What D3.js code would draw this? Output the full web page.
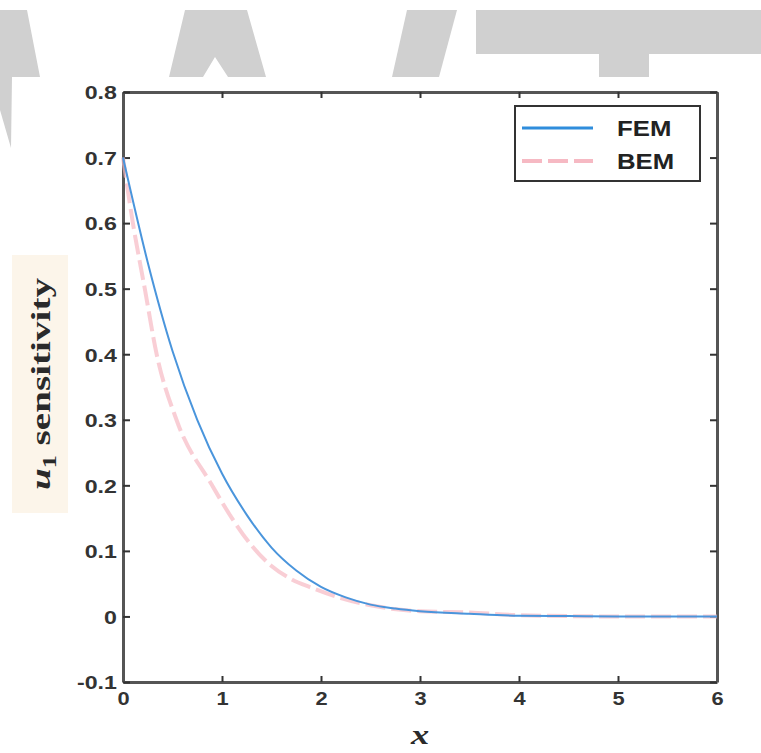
<!DOCTYPE html>
<html>
<head>
<meta charset="utf-8">
<script src="https://cdn.jsdelivr.net/npm/d3@7"></script>
<style>
body { margin: 0; background: #fff; }
svg { display: block; }
</style>
</head>
<body>
<div id="chart"></div>
<script>
// FEM curve (solid blue)
var femX = [0, 0.25, 0.5, 0.75, 1.0, 1.25, 1.5, 1.75, 2.0, 2.25, 2.5, 2.75, 3.0, 3.5, 4.0, 4.5, 5.0, 5.5, 6.0];
var femY = [0.70, 0.54, 0.405, 0.30, 0.218, 0.155, 0.105, 0.07, 0.045, 0.029, 0.018, 0.012, 0.008, 0.004, 0.001, 0.0005, 0, 0, 0];

// BEM curve (pink dashed)
var bemX = [0, 0.1, 0.22, 0.34, 0.54, 0.9, 1.1, 1.3, 1.5, 1.7, 1.9, 2.2, 2.5, 3.0, 3.5, 4.0, 5.0, 6.0];
var bemY = [0.70, 0.60, 0.50, 0.40, 0.30, 0.20, 0.15, 0.108, 0.077, 0.057, 0.044, 0.028, 0.017, 0.008, 0.006, 0.002, 0.0, 0.0];

var xTicks = [0, 1, 2, 3, 4, 5, 6];
var yTicks = [-0.1, 0, 0.1, 0.2, 0.3, 0.4, 0.5, 0.6, 0.7, 0.8];
var seriesNames = ['FEM', 'BEM'];

// grey shapes across the top of the picture
var shapes = [
    [[0, 10], [27, 10], [40, 77], [12, 77], [11, 148], [0, 110]],
    [[185, 10], [247, 10], [266, 77], [228, 77], [215, 57], [203, 77], [169, 77]],
    [[407, 10], [457, 10], [439, 77], [392, 77]],
    [[476, 10], [761, 10], [761, 54], [649, 54], [649, 77], [599, 77], [599, 54], [476, 54]]
];

var width = 761,
    height = 753;

var svg = d3.select('#chart')
    .append('svg')
    .attr('width', width)
    .attr('height', height);

svg.selectAll('polygon.shape')
    .data(shapes)
    .enter()
    .append('polygon')
    .attr('class', 'shape')
    .attr('points', function(d) { return d.map(function(p) { return p.join(','); }).join(' '); })
    .attr('fill', '#d0d0d0');

var x = d3.scaleLinear().domain([0, 6]).range([123, 717]);
var y = d3.scaleLinear().domain([-0.1, 0.8]).range([682, 92]);

// y label background
svg.append('rect')
    .attr('x', 12)
    .attr('y', 255)
    .attr('width', 56)
    .attr('height', 258)
    .attr('fill', '#fcf5ea');

var axisColor = '#555';
var fmt = function(d) { return d === 0 ? '0' : String(+d.toFixed(1)); };

var gx = svg.append('g')
    .attr('transform', 'translate(0,' + y(-0.1) + ')')
    .call(d3.axisBottom(x).tickValues(xTicks).tickFormat(fmt).tickSizeInner(-6).tickSizeOuter(0).tickPadding(10));

var gxTop = svg.append('g')
    .attr('transform', 'translate(0,' + y(0.8) + ')')
    .call(d3.axisTop(x).tickValues(xTicks).tickFormat('').tickSizeInner(-6).tickSizeOuter(0));

var gy = svg.append('g')
    .attr('transform', 'translate(' + x(0) + ',0)')
    .call(d3.axisLeft(y).tickValues(yTicks).tickFormat(fmt).tickSizeInner(-7).tickSizeOuter(0).tickPadding(5));

var gyRight = svg.append('g')
    .attr('transform', 'translate(' + x(6) + ',0)')
    .call(d3.axisRight(y).tickValues(yTicks).tickFormat('').tickSizeInner(-7).tickSizeOuter(0));

[gx, gxTop, gy, gyRight].forEach(function(g) {
    g.select('.domain').attr('stroke', axisColor).attr('stroke-width', 3);
    g.selectAll('.tick line').attr('stroke', '#333').attr('stroke-width', 2);
    g.selectAll('.tick text')
        .attr('fill', '#333')
        .style('font-family', 'Liberation Sans, Arial, sans-serif')
        .style('font-weight', 'bold')
        .style('font-size', '19px');
});
gy.selectAll('.tick text').attr('transform', 'scale(1.22,1)').attr('dy', '0.36em');
gx.selectAll('.tick text').attr('transform', 'scale(1.15,1)');

var lineGen = d3.line()
    .x(function(d) { return x(d[0]); })
    .y(function(d) { return y(d[1]); })
    .curve(d3.curveMonotoneX);

var bem = bemX.map(function(v, i) { return [v, bemY[i]]; });
var fem = femX.map(function(v, i) { return [v, femY[i]]; });

svg.append('path')
    .datum(bem)
    .attr('d', lineGen)
    .attr('fill', 'none')
    .attr('stroke', '#f6b9c3')
    .attr('stroke-width', 4)
    .attr('stroke-dasharray', '20,6')
    .attr('opacity', 0.7);

svg.append('path')
    .datum(fem)
    .attr('d', lineGen)
    .attr('fill', 'none')
    .attr('stroke', '#4a95dc')
    .attr('stroke-width', 2);

// Legend
var legend = svg.append('g');
legend.append('rect')
    .attr('x', 515)
    .attr('y', 106)
    .attr('width', 185)
    .attr('height', 75)
    .attr('fill', '#fff')
    .attr('stroke', '#333')
    .attr('stroke-width', 2);

var legendColors = ['#2f8ddc', '#f6b9c3'];
var legendDash = [null, '20,6'];
var item = legend.selectAll('.item')
    .data(seriesNames)
    .enter()
    .append('g')
    .attr('transform', function(d, i) { return 'translate(0,' + (128 + i * 33) + ')'; });

item.append('line')
    .attr('x1', 522)
    .attr('x2', 593)
    .attr('stroke', function(d, i) { return legendColors[i]; })
    .attr('stroke-width', function(d, i) { return i === 0 ? 3 : 4; })
    .attr('stroke-dasharray', function(d, i) { return legendDash[i]; });

item.append('text')
    .attr('transform', 'translate(617,8) scale(1.12,1)')
    .attr('fill', '#222')
    .style('font-family', 'Liberation Sans, Arial, sans-serif')
    .style('font-weight', 'bold')
    .style('font-size', '23px')
    .text(function(d) { return d; });

// axis titles
var yl = svg.append('text')
    .attr('transform', 'translate(50,384) rotate(-90) scale(1.45,1)')
    .attr('text-anchor', 'middle')
    .attr('fill', '#2a2a2a')
    .style('font-family', 'Liberation Serif, Times New Roman, serif')
    .style('font-weight', 'bold')
    .style('font-size', '27px');
yl.append('tspan').style('font-style', 'italic').text('u');
yl.append('tspan').attr('dy', 6).style('font-size', '18px').text('1');
yl.append('tspan').attr('dy', -6).text(' sensitivity');

svg.append('text')
    .attr('transform', 'translate(420,744) scale(1.3,1)')
    .attr('text-anchor', 'middle')
    .attr('fill', '#2a2a2a')
    .style('font-family', 'Liberation Serif, Times New Roman, serif')
    .style('font-weight', 'bold')
    .style('font-style', 'italic')
    .style('font-size', '28px')
    .text('x');
</script>
</body>
</html>
